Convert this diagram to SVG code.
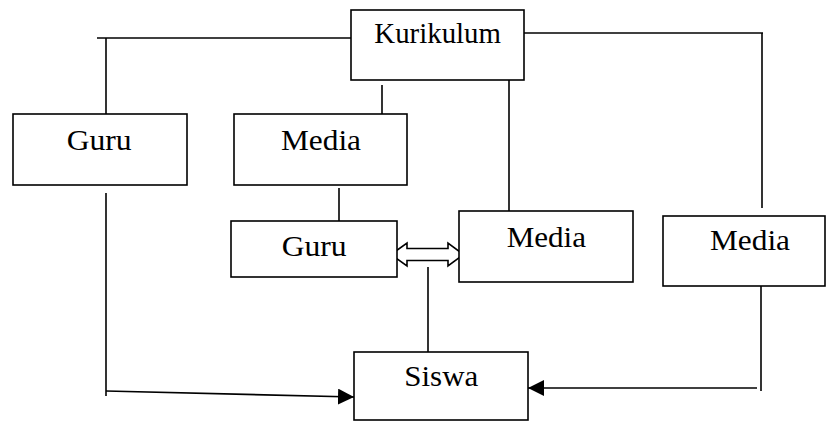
<svg xmlns="http://www.w3.org/2000/svg" width="826" height="421" viewBox="0 0 826 421">
<style>
.box{fill:#fff;stroke:#000;stroke-width:1.6}
.ln{fill:none;stroke:#000;stroke-width:1.6}
.t{font-family:"Liberation Serif","Times New Roman",serif;font-size:30px;fill:#000}
</style>
<defs>
<marker id="ah" viewBox="0 0 16 16" refX="16" refY="8" markerWidth="16" markerHeight="16" markerUnits="userSpaceOnUse" orient="auto">
<path d="M0,0 L16,8 L0,16 Z" fill="#000"/>
</marker>
</defs>
<rect width="826" height="421" fill="#fff"/>
<g id="connectors">
<polyline class="ln" points="97,38 351,38"/>
<polyline class="ln" points="106,38 106,114"/>
<polyline class="ln" points="106,193 106,396"/>
<line class="ln" x1="106" y1="391" x2="354" y2="397" marker-end="url(#ah)"/>
<polyline class="ln" points="524,33 763,33"/>
<polyline class="ln" points="762,33 762,208"/>
<polyline class="ln" points="382,85 382,115"/>
<polyline class="ln" points="339,188 339,221"/>
<polyline class="ln" points="509,80 509,213"/>
<polyline class="ln" points="428,267 428,352"/>
<polyline class="ln" points="761,286 761,391"/>
<line class="ln" x1="757" y1="388" x2="528" y2="388" marker-end="url(#ah)"/>
<polygon class="ln" style="fill:#fff" points="391,254.5 407,243 407,248.5 448,248.5 448,243 463.5,254.5 448,266 448,260.5 407,260.5 407,266"/>
</g>
<g id="kurikulum">
<rect class="box" x="351" y="10" width="173" height="70"/>
<text class="t" x="374.3" y="43.3" textLength="126.7" lengthAdjust="spacingAndGlyphs">Kurikulum</text>
</g>
<g id="guru1">
<rect class="box" x="13" y="114" width="174" height="71"/>
<text class="t" x="66.7" y="150" textLength="65" lengthAdjust="spacingAndGlyphs">Guru</text>
</g>
<g id="media1">
<rect class="box" x="234" y="114" width="173" height="71"/>
<text class="t" x="281" y="150" textLength="80" lengthAdjust="spacingAndGlyphs">Media</text>
</g>
<g id="guru2">
<rect class="box" x="231" y="221" width="166" height="56"/>
<text class="t" x="281.7" y="256" textLength="65" lengthAdjust="spacingAndGlyphs">Guru</text>
</g>
<g id="media2">
<rect class="box" x="459" y="211" width="174" height="71"/>
<text class="t" x="506.7" y="246.7" textLength="79.3" lengthAdjust="spacingAndGlyphs">Media</text>
</g>
<g id="media3">
<rect class="box" x="663" y="216" width="162" height="70"/>
<text class="t" x="710" y="250" textLength="80" lengthAdjust="spacingAndGlyphs">Media</text>
</g>
<g id="siswa">
<rect class="box" x="354" y="352" width="174" height="68"/>
<text class="t" x="404.3" y="385.7" textLength="74" lengthAdjust="spacingAndGlyphs">Siswa</text>
</g>
</svg>
